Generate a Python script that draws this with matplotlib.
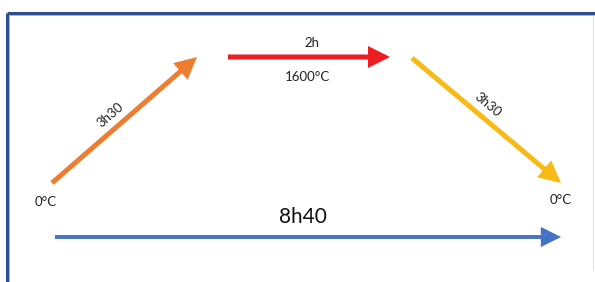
import matplotlib.pyplot as plt
from matplotlib.patches import FancyArrowPatch

plt.rcParams['font.family'] = ['Lato', 'DejaVu Sans']

# diagram segments, in picture pixels (x right, y down)
seg_names = ['heat', 'hold', 'cool', 'total']
seg_start = [(52, 183), (228, 57), (412, 58), (55, 237)]
seg_end = [(197, 57), (390, 57), (561, 183), (561, 237)]
seg_colors = ['#ED7D31', '#EE1D23', '#F7BA16', '#4472C4']
seg_widths = [3.6, 3.6, 3.6, 2.8]

# labels
durations = ['3h30', '2h', '3h30', '8h40']
temps = ['0°C', '1600°C', '0°C']

W, H = 595, 282
fig = plt.figure(figsize=(W / 100, H / 100), dpi=100)
ax = fig.add_axes([0, 0, 1, 1])
ax.set_xlim(0, W)
ax.set_ylim(H, 0)
ax.axis('off')

# frame
ax.plot([7, 7], [H, 13], color='#2F4E8C', lw=2.2, solid_capstyle='butt')
ax.plot([7, W], [13, 13], color='#2F4E8C', lw=2.2, solid_capstyle='butt')
ax.plot([9, 9], [H, 15], color='#9DB5E0', lw=0.7)
ax.plot([9, W], [15, 15], color='#9DB5E0', lw=0.7)
ax.plot([593, 593], [16, 270], color='#E4E4E4', lw=0.8)

for s, e, c, w in zip(seg_start, seg_end, seg_colors, seg_widths):
    arr = FancyArrowPatch(s, e, arrowstyle='-|>,head_length=10,head_width=5',
                          mutation_scale=1, color=c, lw=w,
                          shrinkA=0, shrinkB=0, joinstyle='miter', capstyle='butt')
    ax.add_patch(arr)

ax.text(110, 115, durations[0], fontsize=9.5, rotation=41, ha='center', va='center', color='#222222')
ax.text(312, 43, durations[1], fontsize=9.5, ha='center', va='center', color='#222222')
ax.text(488, 105, durations[2], fontsize=9.5, rotation=-40, ha='center', va='center', color='#222222')
ax.text(303, 217, durations[3], fontsize=15, ha='center', va='center', color='#111111')

ax.text(46, 202, temps[0], fontsize=9.5, ha='center', va='center', color='#222222')
ax.text(307, 77, temps[1], fontsize=9.5, ha='center', va='center', color='#222222')
ax.text(561, 200, temps[2], fontsize=9.5, ha='center', va='center', color='#222222')

fig.savefig('out.png', dpi=100)
